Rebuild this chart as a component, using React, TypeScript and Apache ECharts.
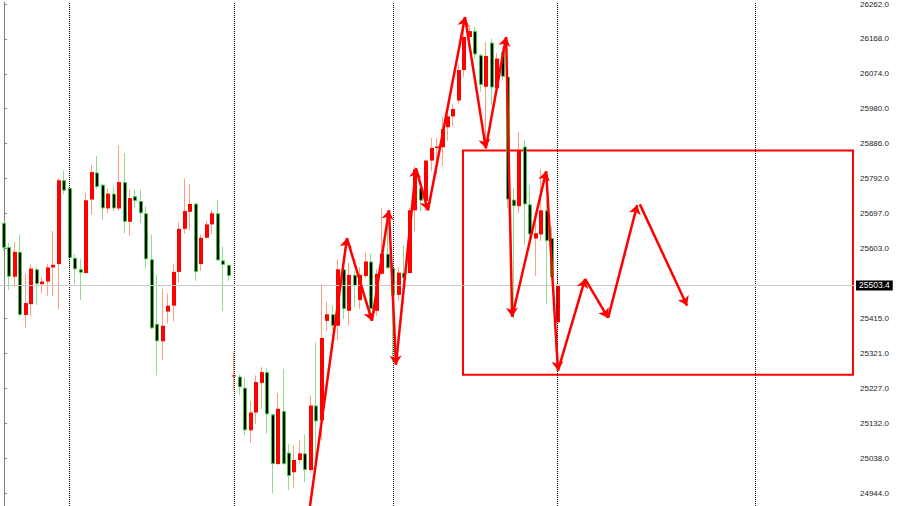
import React, { useEffect, useRef } from "react";
import * as echarts from "echarts";

// Bars, oldest first: [open, close, low, high]
const candles: [number, number, number, number][] = [
  [25672, 25605, 25596, 25672], [25607, 25527, 25492, 25619], [25527, 25594, 25500, 25619],
  [25594, 25424, 25419, 25639], [25424, 25456, 25390, 25535], [25453, 25549, 25420, 25562],
  [25547, 25507, 25451, 25552], [25507, 25514, 25482, 25527], [25514, 25552, 25476, 25562],
  [25552, 25559, 25475, 25650], [25561, 25787, 25440, 25793], [25787, 25759, 25750, 25813],
  [25766, 25578, 25552, 25768], [25578, 25547, 25507, 25588], [25547, 25538, 25464, 25574],
  [25537, 25733, 25535, 25753], [25735, 25809, 25695, 25829], [25808, 25769, 25764, 25853],
  [25775, 25711, 25680, 25777], [25711, 25751, 25698, 25766], [25751, 25711, 25704, 25771],
  [25711, 25782, 25704, 25881], [25782, 25675, 25644, 25860], [25675, 25739, 25638, 25762],
  [25744, 25731, 25713, 25762], [25731, 25698, 25672, 25762], [25698, 25574, 25549, 25717],
  [25574, 25388, 25386, 25641], [25400, 25353, 25261, 25531], [25353, 25395, 25303, 25495],
  [25433, 25449, 25401, 25482], [25449, 25540, 25407, 25562], [25540, 25656, 25511, 25674],
  [25656, 25704, 25643, 25792], [25702, 25723, 25652, 25777], [25724, 25540, 25516, 25726],
  [25561, 25632, 25543, 25641], [25632, 25668, 25628, 25677], [25668, 25698, 25643, 25708],
  [25698, 25571, 25570, 25735], [25571, 25559, 25435, 25608], [25559, 25529, 25516, 25560],
  [25259, 25261, 25220, 25323], [25258, 25229, 25207, 25264], [25228, 25113, 25100, 25255],
  [25113, 25161, 25079, 25192], [25161, 25243, 25131, 25261], [25241, 25270, 25171, 25283],
  [25270, 25156, 25104, 25279], [25156, 25022, 24943, 25157], [25022, 25171, 25021, 25214],
  [25165, 25022, 25020, 25279], [25053, 24990, 24952, 25077], [25000, 25033, 24957, 25073],
  [25033, 25051, 25024, 25086], [25051, 25006, 24974, 25102], [25006, 25180, 24998, 25207],
  [25180, 25137, 24997, 25350], [25140, 25362, 25086, 25507], [25408, 25426, 25380, 25460],
  [25426, 25395, 25382, 25451], [25395, 25547, 25355, 25574], [25547, 25440, 25413, 25574],
  [25435, 25532, 25395, 25565], [25532, 25502, 25444, 25543], [25464, 25532, 25440, 25552],
  [25529, 25568, 25523, 25592], [25568, 25440, 25417, 25589], [25435, 25535, 25422, 25547],
  [25535, 25589, 25533, 25711], [25589, 25550, 25547, 25686], [25551, 25476, 25296, 25564],
  [25478, 25538, 25462, 25552], [25538, 25523, 25453, 25612], [25537, 25706, 25536, 25713],
  [25706, 25816, 25650, 25825], [25766, 25732, 25704, 25771], [25731, 25840, 25704, 25843],
  [25840, 25874, 25811, 25901], [25874, 25878, 25802, 25901], [25876, 25925, 25825, 25959],
  [25930, 25959, 25894, 25968], [25959, 25979, 25932, 25990], [26002, 26084, 25994, 26098],
  [26084, 26173, 26066, 26225], [26173, 26189, 26152, 26205], [26189, 26126, 26114, 26200],
  [26124, 26044, 26026, 26129], [26039, 26122, 25874, 26160], [26158, 26037, 25990, 26169],
  [26035, 26115, 26026, 26129], [26133, 26066, 26057, 26142], [26066, 25735, 25712, 26071],
  [25735, 25717, 25413, 25766], [25717, 25869, 25699, 25918], [25878, 25722, 25614, 25896],
  [25722, 25641, 25623, 25775], [25630, 25644, 25529, 25686], [25641, 25706, 25623, 25816],
  [25706, 25623, 25453, 25731], [25631, 25525, 25516, 25663], [25404, 25503.4, 25274, 25534],
];

// Price scale labels on the right-hand axis
const priceTicks = [
  24944, 25038, 25132, 25227, 25321, 25415, 25603, 25697, 25792, 25886, 25980, 26074, 26168, 26262,
];
const lastPrice = 25503.4;

// Visible window: bar index range and price range
const barMin = -0.71;
const barMax = 155.23;
const priceMin = 24909.1;
const priceMax = 26267.4;

// Session separators (bar index)
const separators = [12, 42, 71, 101, 137];

// Wave sketch: [bar index, price] turning points, each leg ends in an arrow
const waveMain: [number, number][] = [
  [55.83, 24909.1], [62.57, 25631], [67.13, 25408], [70.23, 25706], [71.51, 25290],
  [75.16, 25819], [77.35, 25706], [84.1, 26227], [87.9, 25873], [91.6, 26173],
  [92.7, 25419], [98.9, 25811], [101.06, 25274], [106.0, 25521], [110.2, 25416],
  [115.5, 25720],
];
const waveLast: [number, number][] = [
  [116.0, 25722], [124.6, 25449],
];

// Target zone corners: [bar index, price]
const zoneFrom: [number, number] = [83.73, 25867];
const zoneTo: [number, number] = [154.86, 25263];

const UP_BODY = "#ff0000";
const UP_WICK = "#ff9f80";
const DOWN_BODY = "#000000";
const DOWN_EDGE = "#3fc73f";
const DOWN_WICK = "#8fdf8f";

function legs(points: [number, number][]) {
  return points.slice(1).map((p, k) => [{ coord: points[k] }, { coord: p }]);
}

export default function App() {
  const ref = useRef<HTMLDivElement>(null);

  useEffect(() => {
    document.body.style.margin = "0";
    const chart = echarts.init(ref.current!, null, { renderer: "svg" });

    const candleData = candles.map((c, i) => [i, c[0], c[1], c[2], c[3]]);

    const renderCandle = (params: any, api: any) => {
      const i = api.value(0);
      const o = api.value(1);
      const c = api.value(2);
      const l = api.value(3);
      const h = api.value(4);
      const [x, yo] = api.coord([i, o]);
      const yc = api.coord([i, c])[1];
      const yl = api.coord([i, l])[1];
      const yh = api.coord([i, h])[1];
      const up = c >= o;
      const xc = Math.round(x);
      const top = Math.min(yo, yc);
      const bot = Math.max(yo, yc);
      const body = up
        ? {
            type: "rect",
            shape: { x: xc - 2, y: top, width: 4, height: Math.max(bot - top, 1) },
            style: { fill: UP_BODY },
          }
        : {
            type: "rect",
            shape: { x: xc - 1.5, y: top + 0.5, width: 3, height: Math.max(bot - top - 1, 1) },
            style: { fill: DOWN_BODY, stroke: DOWN_EDGE, lineWidth: 1 },
          };
      return {
        type: "group",
        children: [
          {
            type: "line",
            shape: { x1: xc - 0.5, y1: yh, x2: xc - 0.5, y2: yl },
            style: { stroke: up ? UP_WICK : DOWN_WICK, lineWidth: 1 },
          },
          body,
        ],
      };
    };

    chart.setOption({
      animation: false,
      backgroundColor: "#ffffff",
      grid: { left: 0, right: 45, top: 0, bottom: 0 },
      xAxis: { type: "value", min: barMin, max: barMax, show: false },
      yAxis: {
        type: "value",
        position: "right",
        min: priceMin,
        max: priceMax,
        axisLine: { show: true, lineStyle: { color: "#808080", width: 1 } },
        axisTick: {
          show: true,
          length: 3,
          customValues: priceTicks,
          lineStyle: { color: "#808080" },
        },
        axisLabel: {
          customValues: priceTicks,
          formatter: (v: number) => v.toFixed(1),
          fontSize: 8,
          fontFamily: "Liberation Sans",
          color: "#1e1e1e",
          margin: 5,
        },
        splitLine: { show: false },
      },
      series: [
        {
          name: "guides",
          type: "line",
          data: [],
          z: 1,
          clip: false,
          markLine: {
            silent: true,
            symbol: ["none", "none"],
            animation: false,
            data: [
              ...separators.map((v) => ({
                xAxis: v,
                lineStyle: { type: [1, 1], color: "#000000", width: 1 },
                label: { show: false },
              })),
              {
                yAxis: lastPrice,
                lineStyle: { type: "solid", color: "#c8c8c8", width: 1 },
                label: {
                  show: true,
                  position: "end",
                  distance: 1,
                  formatter: lastPrice.toFixed(1),
                  backgroundColor: "#000000",
                  color: "#ffffff",
                  fontSize: 8.5,
                  fontFamily: "Liberation Sans",
                  padding: [1, 3, 0, 3],
                },
              },
            ],
          },
        },
        {
          name: "price",
          type: "custom",
          renderItem: renderCandle,
          data: candleData,
          encode: { x: 0, y: [1, 2, 3, 4] },
          z: 2,
          clip: false,
        },
        {
          name: "wave",
          type: "line",
          data: [],
          z: 3,
          clip: false,
          markArea: {
            silent: true,
            itemStyle: { color: "rgba(0,0,0,0)", borderColor: "#ff0000", borderWidth: 2 },
            label: { show: false },
            data: [[{ coord: zoneFrom }, { coord: zoneTo }]],
          },
          markLine: {
            silent: true,
            symbol: ["none", "arrow"],
            symbolSize: 9,
            lineStyle: { color: "#ff0000", width: 2.5, type: "solid" },
            label: { show: false },
            data: [...legs(waveMain), ...legs(waveLast)],
          },
        },
      ],
    });

    return () => chart.dispose();
  }, []);

  return (
    <div
      ref={ref}
      style={{ position: "absolute", left: 0, top: 0, width: 900, height: 506 }}
    />
  );
}
